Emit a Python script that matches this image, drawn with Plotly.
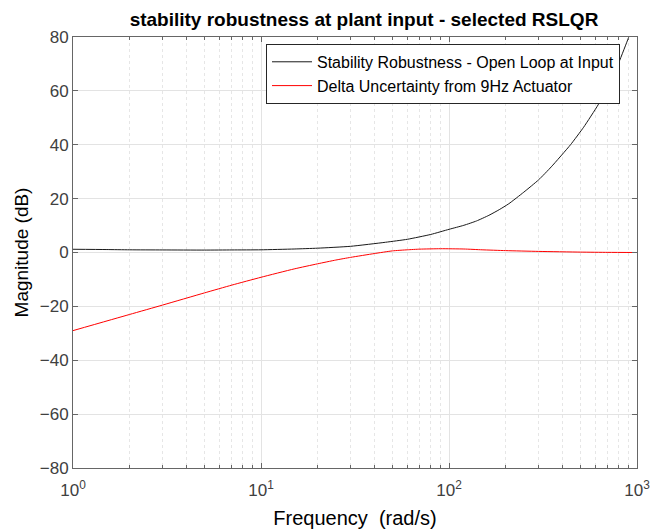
import plotly.graph_objects as go

# ---- data ----
freq_robust = [1, 1.5, 2, 3, 5, 7, 10, 15, 20, 30, 46, 60, 80, 100, 120, 140, 163,
               185, 208, 250, 300, 350, 443, 520, 621, 700, 800, 904, 1000]
mag_robust = [1.2, 1.1, 1.0, 0.95, 0.9, 0.95, 1.0, 1.3, 1.6, 2.3, 3.8, 4.9, 6.7, 8.6,
              10.1, 11.7, 13.8, 15.9, 18.1, 22.4, 27.0, 31.8, 40.0, 46.5, 54.8, 61.5,
              70.5, 80.0, 89.0]

freq_delta = [1, 2, 3, 5, 7, 10, 15, 20, 25, 30, 40, 50, 60, 70, 90, 120, 150, 200,
              300, 500, 700, 1000]
mag_delta = [-29.0, -23.0, -19.5, -15.0, -12.1, -9.2, -6.1, -4.2, -2.8, -1.8, -0.4,
             0.6, 1.0, 1.25, 1.4, 1.3, 1.0, 0.7, 0.4, 0.15, 0.05, 0.0]

x_major = [1, 10, 100, 1000]
x_major_text = ["10<sup>0</sup>", "10<sup>1</sup>", "10<sup>2</sup>", "10<sup>3</sup>"]
x_minor = [m * d for d in (1, 10, 100) for m in range(2, 10)]
y_ticks = [-80, -60, -40, -20, 0, 20, 40, 60, 80]

title_text = "stability robustness at plant input - selected RSLQR"
name_robust = "Stability Robustness - Open Loop at Input"
name_delta = "Delta Uncertainty from 9Hz Actuator"

FONT = "Liberation Sans, Arial, Helvetica, sans-serif"
AXC = "#666666"
TXT = "#404040"
GRID = "#e3e3e3"

fig = go.Figure()
fig.add_trace(go.Scatter(x=freq_robust, y=mag_robust, mode="lines", name=name_robust,
                         line=dict(color="#1a1a1a", width=1, shape="spline", smoothing=0.5)))
fig.add_trace(go.Scatter(x=freq_delta, y=mag_delta, mode="lines", name=name_delta,
                         line=dict(color="#ff0000", width=1, shape="spline", smoothing=0.5)))

fig.update_layout(
    width=654, height=532,
    margin=dict(l=73, r=17, t=37, b=64),
    paper_bgcolor="white", plot_bgcolor="white",
    font=dict(family=FONT, color=TXT),
    title=dict(text="<b>" + title_text + "</b>", x=364 / 654,
               xanchor="center", y=0.977, yanchor="top",
               font=dict(size=19, color="#000000", family=FONT)),
    legend=dict(x=(266 - 73) / 564, y=0.984, xanchor="left", yanchor="top",
                bgcolor="white", bordercolor="#262626", borderwidth=1,
                font=dict(size=16, color="#000000", family=FONT),
                tracegroupgap=0, itemwidth=40),
    showlegend=True,
)

fig.update_xaxes(
    type="log", range=[0, 3], automargin=False,
    tickmode="array", tickvals=x_major, ticktext=x_major_text,
    ticks="inside", ticklen=5, tickcolor=AXC, tickwidth=1,
    showline=True, linecolor=AXC, linewidth=1, mirror="ticks",
    showgrid=True, gridcolor=GRID, gridwidth=1,
    tickfont=dict(size=17, color=TXT), ticklabelstandoff=7,
    minor=dict(tickmode="array", tickvals=x_minor, ticks="inside", ticklen=3,
               tickcolor=AXC, showgrid=True, gridcolor="#e6e6e6", griddash="dot", gridwidth=1),
    title=dict(text="Frequency  (rad/s)", font=dict(size=20, color="#000000"), standoff=11),
    zeroline=False,
)
fig.update_yaxes(
    range=[-80, 80], tickmode="array", tickvals=y_ticks, automargin=False,
    ticks="inside", ticklen=5, tickcolor=AXC, tickwidth=1,
    showline=True, linecolor=AXC, linewidth=1, mirror="ticks",
    showgrid=True, gridcolor=GRID, gridwidth=1,
    tickfont=dict(size=17, color=TXT),
    title=dict(text="Magnitude (dB)", font=dict(size=19, color="#000000"), standoff=6),
    zeroline=False,
)

fig.write_html("out.html")
